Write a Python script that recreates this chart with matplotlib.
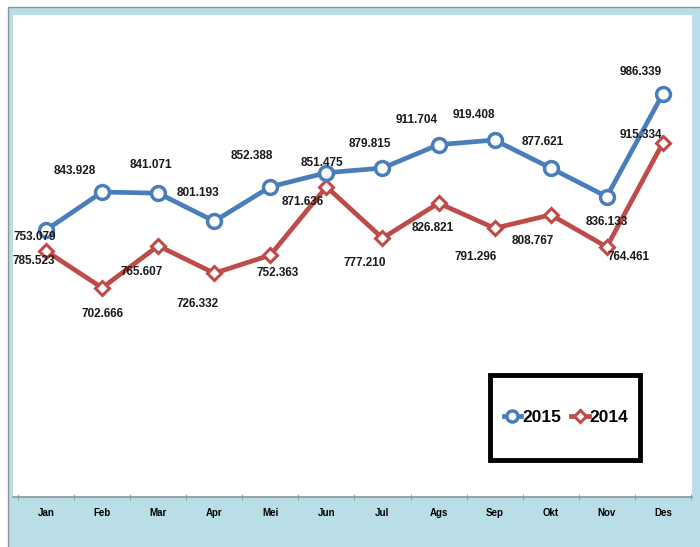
import matplotlib.pyplot as plt
from matplotlib.patches import Rectangle

months = ['Jan', 'Feb', 'Mar', 'Apr', 'Mei', 'Jun', 'Jul', 'Ags', 'Sep', 'Okt', 'Nov', 'Des']

# values printed on the chart
labels_2015 = [753.079, 843.928, 841.071, 801.193, 852.388, 851.475,
               879.815, 911.704, 919.408, 877.621, 836.133, 986.339]
labels_2014 = [785.523, 702.666, 765.607, 726.332, 752.363, 871.636,
               777.210, 826.821, 791.296, 808.767, 764.461, 915.334]

# heights of the plotted points (they do not follow the labels)
heights_2015 = [753, 818, 816, 768, 827, 851, 859, 899, 907, 859, 810, 986]
heights_2014 = [717, 654, 726, 679, 710, 827, 739, 799, 756, 779, 724, 902]

# label offsets in points (dx, dy)
offs_2015 = [(-8, -5), (-20, 15), (-5, 20), (-12, 20), (-13, 22), (-3, 7),
             (-9, 17), (-16, 18), (-15, 18), (-6, 19), (0, -18), (-16, 16)]
offs_2014 = [(-9, -7), (0, -19), (-12, -19), (-12, -22), (5, -13), (-17, -11),
             (-13, -18), (-4, -18), (-14, -21), (-13, -19), (16, -7), (-16, 6)]

blue = '#4A7EBB'
red = '#BE4B48'

plt.rcParams['font.family'] = ['Liberation Sans', 'DejaVu Sans']

fig = plt.figure(figsize=(7, 5.47), dpi=100)
fig.patch.set_facecolor('white')
fig.patches.append(Rectangle((8 / 700, -0.01), 1.0, 1 - 7 / 547 + 0.01,
                             transform=fig.transFigure, facecolor='#B9DEE7',
                             edgecolor='#8A9499', linewidth=1.0, zorder=-5))

ax = fig.add_axes([13 / 700, 50 / 547, 679 / 700, 482 / 547])
ax.set_facecolor('white')

x = list(range(len(months)))
ax.plot(x, heights_2015, color=blue, linewidth=3.4, marker='o', markersize=10,
        markerfacecolor='white', markeredgecolor=blue, markeredgewidth=2.5,
        label='2015', zorder=3)
ax.plot(x, heights_2014, color=red, linewidth=3.4, marker='D', markersize=7.5,
        markerfacecolor='white', markeredgecolor=red, markeredgewidth=2.2,
        label='2014', zorder=2)

for i in x:
    ax.annotate(f'{labels_2015[i]:.3f}', (i, heights_2015[i]), xytext=offs_2015[i],
                textcoords='offset points', ha='center', va='center',
                fontsize=8.5, fontweight='bold', color='#1a1a1a', zorder=5)
    ax.annotate(f'{labels_2014[i]:.3f}', (i, heights_2014[i]), xytext=offs_2014[i],
                textcoords='offset points', ha='center', va='center',
                fontsize=8.5, fontweight='bold', color='#1a1a1a', zorder=5)

ax.set_xlim(-0.59, 11.52)
ax.set_ylim(296, 1121)
ax.set_xticks(x)
ax.set_xticklabels(months, fontsize=7, fontweight='bold')
ax.set_xticks([i + 0.5 for i in range(-1, 12)], minor=True)
ax.tick_params(axis='x', which='major', length=0, pad=8)
ax.tick_params(axis='x', which='minor', length=4, color='#8A9499', direction='inout')
ax.set_yticks([])
for side in ['top', 'right', 'left']:
    ax.spines[side].set_visible(False)
ax.spines['bottom'].set_color('#8A9499')
ax.spines['bottom'].set_linewidth(1.2)

# legend box with heavy black frame
fig.patches.append(Rectangle((490 / 700, 87 / 547), 150 / 700, 85 / 547,
                             transform=fig.transFigure, facecolor='white',
                             edgecolor='black', linewidth=3.5, zorder=4))
leg = fig.legend(loc='center', bbox_to_anchor=(566 / 700, 130 / 547), ncol=2,
                 frameon=False, handlelength=1.0, handletextpad=0.05,
                 columnspacing=0.6, markerscale=0.8,
                 prop={'weight': 'bold', 'size': 12.5})
leg.set_zorder(6)

fig.savefig('out.png', dpi=100)
